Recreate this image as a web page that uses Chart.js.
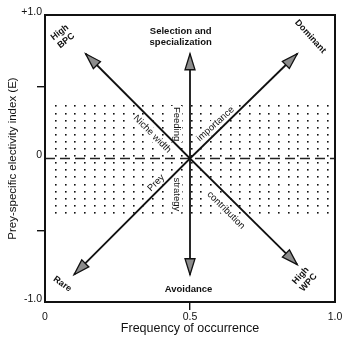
<!DOCTYPE html>
<html>
<head>
<meta charset="utf-8">
<script src="https://cdn.jsdelivr.net/npm/chart.js@4.4.1/dist/chart.umd.min.js"></script>
<style>
  html, body { margin: 0; padding: 0; background: #fff; }
  #wrap { width: 347px; height: 342px; }
</style>
</head>
<body>
<div id="wrap"><canvas id="amundsen"></canvas></div>
<script>
// arrows all start at the centre of the plot
const originX = 0.5;
const originE = 0;
const arrowNames = ["High BPC", "Selection and specialization", "Dominant", "Rare", "Avoidance", "High WPC"];
const tipX = [0.14, 0.5, 0.87, 0.1, 0.5, 0.87];
const tipE = [0.73, 0.73, 0.73, -0.81, -0.81, -0.74];

// dotted band around E = 0
const bandE = [0.37, -0.37];

const xTicks = [0, 0.5, 1];
const xTickLabels = ["0", "0.5", "1.0"];
const yTicks = [-1, -0.5, 0, 0.5, 1];
const yTickLabels = ["-1.0", "", "0", "", "+1.0"];

const FONT = "'Liberation Sans', Arial, sans-serif";

const cornerLabels = [
  { lines: ["High", "BPC"], x: 0.062, y: 0.85, rot: -38, bold: true, size: 9 },
  { lines: ["Selection and", "specialization"], x: 0.468, y: 0.85, rot: 0, bold: true, size: 9.5 },
  { lines: ["Dominant"], x: 0.915, y: 0.85, rot: 48, bold: true, size: 9 },
  { lines: ["Rare"], x: 0.06, y: -0.875, rot: 35, bold: true, size: 9 },
  { lines: ["Avoidance"], x: 0.495, y: -0.91, rot: 0, bold: true, size: 9.5 },
  { lines: ["High", "WPC"], x: 0.895, y: -0.84, rot: -48, bold: true, size: 9 },
  { lines: ["Niche width"], x: 0.37, y: 0.17, rot: 45, bold: false, size: 9.5, knock: true },
  { lines: ["Feeding"], x: 0.453, y: 0.24, rot: 90, bold: false, size: 9.5, knock: true },
  { lines: ["importance"], x: 0.588, y: 0.24, rot: -42, bold: false, size: 9.5, knock: true },
  { lines: ["Prey"], x: 0.383, y: -0.17, rot: -45, bold: false, size: 9.5, knock: true },
  { lines: ["strategy"], x: 0.453, y: -0.25, rot: 90, bold: false, size: 9.5, knock: true },
  { lines: ["contribution"], x: 0.624, y: -0.36, rot: 45, bold: false, size: 9.5, knock: true }
];

const datasets = arrowNames.map((name, i) => ({
  label: name,
  data: [{ x: originX, y: originE }, { x: tipX[i], y: tipE[i] }],
  showLine: true,
  borderColor: "#111",
  borderWidth: 1.8,
  pointRadius: 0,
  fill: false
}));

const diagramPlugin = {
  id: "diagram",
  beforeDatasetsDraw(chart) {
    const { ctx, chartArea, scales } = chart;
    const yTop = scales.y.getPixelForValue(bandE[0]);
    const yBot = scales.y.getPixelForValue(bandE[1]);
    ctx.save();
    ctx.fillStyle = "#111";
    for (let y = yTop; y <= yBot + 0.5; y += 7.1) {
      for (let x = chartArea.left + 10; x < chartArea.right - 3; x += 9.7) {
        ctx.fillRect(Math.round(x), Math.round(y), 1.6, 1.6);
      }
    }
    // knock out the dots behind the inner labels
    ctx.fillStyle = "#fff";
    cornerLabels.filter(l => l.knock).forEach(lab => {
      const px = scales.x.getPixelForValue(lab.x);
      const py = scales.y.getPixelForValue(lab.y);
      ctx.save();
      ctx.translate(px, py);
      ctx.rotate(lab.rot * Math.PI / 180);
      ctx.font = lab.size + "px " + FONT;
      const w = ctx.measureText(lab.lines[0]).width;
      ctx.fillRect(-w / 2 - 1, -lab.size * 0.6, w + 2, lab.size * 1.2);
      ctx.restore();
    });
    // dashed zero line
    const y0 = scales.y.getPixelForValue(0);
    ctx.strokeStyle = "#222";
    ctx.lineWidth = 1.4;
    ctx.setLineDash([10, 5]);
    ctx.beginPath();
    ctx.moveTo(chartArea.left, y0);
    ctx.lineTo(chartArea.right, y0);
    ctx.stroke();
    ctx.restore();
  },
  afterDatasetsDraw(chart) {
    const { ctx, chartArea, scales } = chart;
    ctx.save();
    // arrow heads
    const ox = scales.x.getPixelForValue(originX);
    const oy = scales.y.getPixelForValue(originE);
    for (let i = 0; i < tipX.length; i++) {
      const tx = scales.x.getPixelForValue(tipX[i]);
      const ty = scales.y.getPixelForValue(tipE[i]);
      const len = Math.hypot(tx - ox, ty - oy);
      const dx = (tx - ox) / len, dy = (ty - oy) / len;
      const L = 16, W = 5;
      const bx = tx - dx * L, by = ty - dy * L;
      ctx.beginPath();
      ctx.moveTo(tx, ty);
      ctx.lineTo(bx - dy * W, by + dx * W);
      ctx.lineTo(bx + dy * W, by - dx * W);
      ctx.closePath();
      ctx.fillStyle = "#8c8c8c";
      ctx.fill();
      ctx.strokeStyle = "#111";
      ctx.lineWidth = 1.3;
      ctx.stroke();
    }
    // text labels
    ctx.fillStyle = "#111";
    ctx.textAlign = "center";
    ctx.textBaseline = "middle";
    cornerLabels.forEach(lab => {
      const px = scales.x.getPixelForValue(lab.x);
      const py = scales.y.getPixelForValue(lab.y);
      const lh = lab.size * 1.15;
      ctx.save();
      ctx.translate(px, py);
      ctx.rotate(lab.rot * Math.PI / 180);
      ctx.font = (lab.bold ? "bold " : "") + lab.size + "px " + FONT;
      lab.lines.forEach((t, k) => {
        ctx.fillText(t, 0, (k - (lab.lines.length - 1) / 2) * lh);
      });
      ctx.restore();
    });
    // frame
    ctx.strokeStyle = "#111";
    ctx.lineWidth = 2;
    ctx.strokeRect(chartArea.left, chartArea.top, chartArea.right - chartArea.left, chartArea.bottom - chartArea.top);
    ctx.restore();
  }
};

new Chart(document.getElementById("amundsen"), {
  type: "scatter",
  data: { datasets: datasets },
  plugins: [diagramPlugin],
  options: {
    responsive: true,
    maintainAspectRatio: false,
    animation: false,
    layout: { padding: { top: 15, right: 12, left: 0, bottom: 0 } },
    plugins: { legend: { display: false }, tooltip: { enabled: false } },
    scales: {
      x: {
        type: "linear",
        min: 0,
        max: 1,
        afterFit: s => { s.height = 40; },
        afterBuildTicks: s => { s.ticks = xTicks.map(v => ({ value: v })); },
        ticks: {
          color: "#111",
          font: { family: FONT, size: 10.5 },
          padding: 1,
          maxRotation: 0,
          callback: (v) => xTickLabels[xTicks.indexOf(v)]
        },
        grid: {
          drawOnChartArea: false,
          tickLength: 8,
          lineWidth: 1.4,
          color: c => (c.tick && c.tick.value === 0.5 ? "#111" : "rgba(0,0,0,0)")
        },
        border: { display: false },
        title: {
          display: true,
          text: "Frequency of occurrence",
          color: "#111",
          font: { family: FONT, size: 12.5 },
          padding: { top: 0, bottom: 6 }
        }
      },
      y: {
        type: "linear",
        min: -1,
        max: 1,
        afterFit: s => { s.width = 45; },
        afterBuildTicks: s => { s.ticks = yTicks.map(v => ({ value: v })); },
        ticks: {
          color: "#111",
          font: { family: FONT, size: 10.5 },
          padding: -5,
          labelOffset: -3,
          callback: (v) => yTickLabels[yTicks.indexOf(v)]
        },
        grid: {
          drawOnChartArea: false,
          tickLength: 8,
          lineWidth: 1.4,
          color: c => (c.tick && Math.abs(c.tick.value) === 0.5 ? "#111" : "rgba(0,0,0,0)")
        },
        border: { display: false },
        title: {
          display: true,
          text: "Prey-specific electivity index (E)",
          color: "#111",
          font: { family: FONT, size: 11.5 },
          padding: { top: 6, bottom: 0 }
        }
      }
    }
  }
});
</script>
</body>
</html>
